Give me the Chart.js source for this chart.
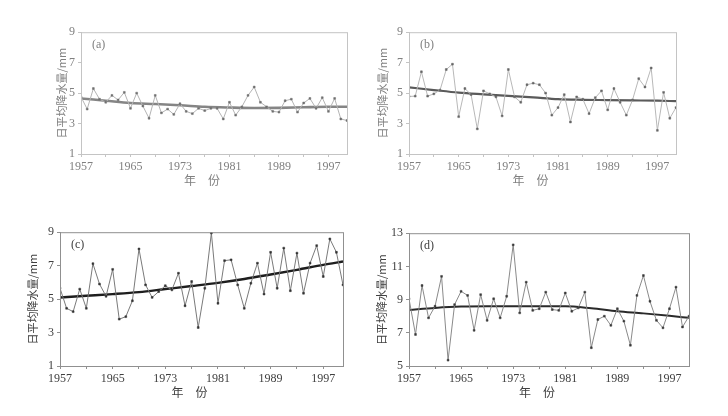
<!DOCTYPE html>
<html>
<head>
<meta charset="utf-8">
<script src="https://cdn.jsdelivr.net/npm/chart.js@4/dist/chart.umd.min.js"></script>
<style>
  body { margin: 0; width: 728px; height: 416px; background: #fff; position: relative; overflow: hidden; }
  canvas { position: absolute; }
</style>
</head>
<body>
<canvas id="pa"></canvas>
<canvas id="pb"></canvas>
<canvas id="pc"></canvas>
<canvas id="pd"></canvas>
<script>
// years 1957-2000
const years = [];
for (let y = 1957; y <= 2000; y++) years.push(y);

const xTicks = [1957, 1961, 1965, 1969, 1973, 1977, 1981, 1985, 1989, 1993, 1997];
const xLabels = [1957, 1965, 1973, 1981, 1989, 1997];

const rainA = [4.75, 3.95, 5.3, 4.6, 4.4, 4.85, 4.55, 5.05, 4.0, 5.0, 4.15, 3.35, 4.85, 3.7, 3.95, 3.6, 4.3, 3.8, 3.65, 4.0,
  3.85, 4.0, 4.0, 3.3, 4.4, 3.55, 4.1, 4.85, 5.4, 4.4, 4.1, 3.8, 3.75, 4.5, 4.6, 3.75, 4.35, 4.65, 4.0, 4.7, 3.8, 4.65, 3.3, 3.2];
const rainB = [4.78, 4.8, 6.4, 4.8, 4.95, 5.2, 6.55, 6.9, 3.45, 5.3, 4.9, 2.65, 5.15, 4.95, 4.75, 3.5, 6.55, 4.75, 4.4, 5.55,
  5.65, 5.55, 5.0, 3.55, 4.05, 4.9, 3.1, 4.75, 4.6, 3.65, 4.7, 5.15, 3.9, 5.3, 4.4, 3.55, 4.55, 5.95, 5.4, 6.65, 2.55, 5.05, 3.35, 4.05];
const rainC = [5.65, 4.45, 4.25, 5.6, 4.45, 7.12, 5.9, 5.17, 6.78, 3.8, 3.95, 4.9, 8.0, 5.85, 5.1, 5.45, 5.8, 5.55, 6.55, 4.6,
  6.05, 3.3, 5.65, 8.95, 4.75, 7.3, 7.35, 5.85, 4.45, 5.95, 7.15, 5.3, 7.8, 5.65, 8.05, 5.5, 7.75, 5.35, 7.15, 8.2, 6.35, 8.6, 7.8, 5.85];
const rainD = [9.05, 6.9, 9.85, 7.9, 8.6, 10.4, 5.35, 8.7, 9.5, 9.25, 7.15, 9.3, 7.75, 9.05, 7.9, 9.2, 12.3, 8.2, 10.05, 8.35,
  8.45, 9.45, 8.4, 8.35, 9.4, 8.3, 8.5, 9.45, 6.1, 7.8, 8.0, 7.45, 8.45, 7.7, 6.25, 9.25, 10.45, 8.9, 7.75, 7.3, 8.45, 9.75, 7.35, 8.0];

// smoothed trend, read at a few years
const trendYears = [1957, 1961, 1965, 1969, 1973, 1977, 1981, 1985, 1989, 1993, 1997, 2000];
const trendA = [4.65, 4.5, 4.35, 4.28, 4.2, 4.1, 4.05, 4.02, 4.03, 4.07, 4.1, 4.1];
const trendB = [5.38, 5.2, 5.03, 4.92, 4.82, 4.72, 4.6, 4.56, 4.54, 4.52, 4.5, 4.47];
const trendC = [5.1, 5.2, 5.3, 5.42, 5.6, 5.78, 5.97, 6.2, 6.47, 6.75, 7.05, 7.25];
const trendD = [8.38, 8.5, 8.58, 8.6, 8.6, 8.6, 8.6, 8.48, 8.3, 8.17, 8.02, 7.9];

const yTitle = '日平均降水量/mm';
const xTitle = '年　份　　';

const frame = {
  id: 'frame',
  afterDraw(chart, args, o) {
    const a = chart.chartArea, ctx = chart.ctx;
    ctx.save();
    ctx.strokeStyle = o.color;
    ctx.lineWidth = 1;
    ctx.strokeRect(a.left + 0.5, a.top + 0.5, a.right - a.left, a.bottom - a.top);
    ctx.fillStyle = o.textColor;
    ctx.font = '12px "Liberation Serif", "DejaVu Serif", serif';
    ctx.textBaseline = 'middle';
    ctx.fillText(o.label, a.left + 11, a.top + 13);
    ctx.restore();
  }
};

function makePanel(id, p) {
  const cv = document.getElementById(id);
  cv.style.left = p.left + 'px';
  cv.style.top = p.top + 'px';
  cv.style.width = p.w + 'px';
  cv.style.height = p.h + 'px';
  cv.width = p.w; cv.height = p.h;
  const serif = { family: '"Liberation Serif", "DejaVu Serif", serif', size: 12 };
  const cjk = { family: '"Noto Sans CJK SC", sans-serif', size: 11 };
  new Chart(cv, {
    type: 'line',
    data: {
      datasets: [
        {
          data: years.map((y, i) => ({ x: y, y: p.rain[i] })),
          borderColor: p.lineColor,
          borderWidth: 1,
          pointStyle: 'rect',
          pointRadius: 1.3,
          pointBackgroundColor: p.pointColor,
          pointBorderColor: p.pointColor,
          pointBorderWidth: 0.5,
          tension: 0
        },
        {
          data: trendYears.map((y, i) => ({ x: y, y: p.trend[i] })),
          borderColor: p.trendColor,
          borderWidth: p.trendWidth,
          pointRadius: 0,
          cubicInterpolationMode: 'monotone'
        }
      ]
    },
    options: {
      responsive: false,
      animation: false,
      devicePixelRatio: 1,
      layout: { padding: { top: 8, right: p.w - p.plotW - p.yw, left: 0, bottom: 0 } },
      plugins: {
        legend: { display: false },
        tooltip: { enabled: false },
        frame: { color: p.frameColor, textColor: p.textColor, label: p.label }
      },
      scales: {
        x: {
          type: 'linear',
          min: 1957,
          max: 2000,
          afterBuildTicks: s => { s.ticks = xTicks.map(v => ({ value: v })); },
          afterFit: s => { s.height = 38; },
          grid: { drawOnChartArea: false, tickLength: 3, color: p.frameColor },
          border: { color: p.frameColor },
          ticks: {
            autoSkip: false, maxRotation: 0, padding: 3,
            color: p.textColor, font: serif,
            callback: v => xLabels.includes(v) ? String(v) : ''
          },
          title: { display: true, text: xTitle, color: p.textColor, font: { family: '"Noto Sans CJK SC", sans-serif', size: 12 }, padding: { top: 0, bottom: 4 } }
        },
        y: {
          min: p.ymin,
          max: p.ymin + 8,
          afterFit: s => { s.width = p.yw; },
          grid: { drawOnChartArea: false, tickLength: 3, color: p.frameColor },
          border: { color: p.frameColor },
          ticks: { stepSize: 2, padding: 3, color: p.textColor, font: serif },
          title: { display: true, text: yTitle, color: p.textColor, font: cjk, padding: { top: 4, bottom: 4 } }
        }
      }
    },
    plugins: [frame]
  });
}

makePanel('pa', {
  left: 51, top: 22, w: 304, h: 170, yw: 30, plotW: 266, ymin: 1,
  rain: rainA, trend: trendA, label: '(a)',
  lineColor: '#b4b4b4', pointColor: '#707070', trendColor: '#858585', trendWidth: 2.6,
  frameColor: '#c4c4c4', textColor: '#808080'
});
makePanel('pb', {
  left: 372, top: 22, w: 312, h: 170, yw: 37, plotW: 267, ymin: 1,
  rain: rainB, trend: trendB, label: '(b)',
  lineColor: '#b8b8b8', pointColor: '#666666', trendColor: '#5a5a5a', trendWidth: 2.2,
  frameColor: '#c4c4c4', textColor: '#808080'
});
makePanel('pc', {
  left: 22, top: 222, w: 330, h: 182, yw: 38, plotW: 283, ymin: 1,
  rain: rainC, trend: trendC, label: '(c)',
  lineColor: '#7a7a7a', pointColor: '#333333', trendColor: '#1e1e1e', trendWidth: 2.4,
  frameColor: '#909090', textColor: '#404040'
});
makePanel('pd', {
  left: 371, top: 223, w: 326, h: 181, yw: 38, plotW: 280, ymin: 5,
  rain: rainD, trend: trendD, label: '(d)',
  lineColor: '#8a8a8a', pointColor: '#3a3a3a', trendColor: '#2a2a2a', trendWidth: 2.0,
  frameColor: '#909090', textColor: '#404040'
});
</script>
</body>
</html>
